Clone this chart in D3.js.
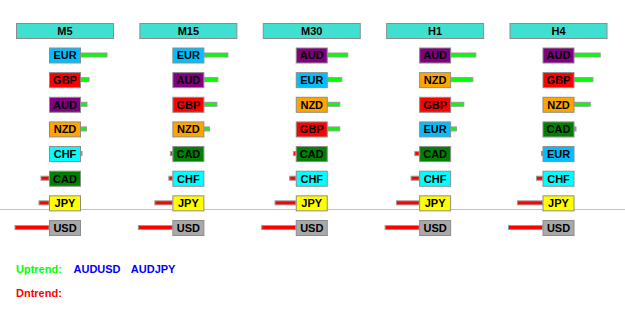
<!DOCTYPE html>
<html>
<head>
<meta charset="utf-8">
<script src="https://cdn.jsdelivr.net/npm/d3@7"></script>
<style>
  body { margin: 0; background: #fff; }
  text { font-family: "Liberation Sans", Arial, sans-serif; font-weight: bold; }
</style>
</head>
<body>
<div id="chart"></div>
<script>
// timeframes shown as columns
const timeframes = ['M5', 'M15', 'M30', 'H1', 'H4'];

// currency order (strongest first) and strength per timeframe
const m5Currencies  = ['EUR', 'GBP', 'AUD', 'NZD', 'CHF', 'CAD', 'JPY', 'USD'];
const m5Values      = [26, 8, 6, 5.5, 1, -8, -10, -34];
const m15Currencies = ['EUR', 'AUD', 'GBP', 'NZD', 'CAD', 'CHF', 'JPY', 'USD'];
const m15Values     = [23.5, 13.5, 12.5, 5, -2, -3.5, -17.5, -34];
const m30Currencies = ['AUD', 'EUR', 'NZD', 'GBP', 'CAD', 'CHF', 'JPY', 'USD'];
const m30Values     = [20, 14, 12, 12, -2.3, -6, -20.7, -34];
const h1Currencies  = ['AUD', 'NZD', 'GBP', 'EUR', 'CAD', 'CHF', 'JPY', 'USD'];
const h1Values      = [24.7, 21.7, 12.7, 5.3, -4.3, -8, -22.7, -34];
const h4Currencies  = ['AUD', 'GBP', 'NZD', 'CAD', 'EUR', 'CHF', 'JPY', 'USD'];
const h4Values      = [25.7, 18.4, 15.7, 1.5, -1, -6, -25, -34];

const uptrendPairs = ['AUDUSD', 'AUDJPY'];
const dntrendPairs = [];

const currencyColors = {
  EUR: '#00bfff', GBP: '#ff0000', AUD: '#800080', NZD: '#ffa500',
  CHF: '#00ffff', CAD: '#008000', JPY: '#ffff00', USD: '#a9a9a9'
};

const columns = [
  {currencies: m5Currencies, values: m5Values},
  {currencies: m15Currencies, values: m15Values},
  {currencies: m30Currencies, values: m30Values},
  {currencies: h1Currencies, values: h1Values},
  {currencies: h4Currencies, values: h4Values}
];

const width = 625, height = 322;
const headerW = 98, headerH = 16;
const boxW = 32, boxH = 16;

const svg = d3.select('#chart').append('svg')
    .attr('width', width)
    .attr('height', height);

// column and row positions
const xCol = d3.scaleLinear().domain([0, 4]).range([16, 509.5]);
const yRow = d3.scaleLinear().domain([0, 7]).range([47.5, 220]);
// strength -> bar length in px
const barLen = d3.scaleLinear().domain([0, 34]).range([0, 34]);

// separator line above the weakest currency
svg.append('line')
    .attr('x1', 0).attr('x2', width)
    .attr('y1', 209.5).attr('y2', 209.5)
    .attr('stroke', '#c0c0c0')
    .attr('stroke-width', 1);

timeframes.forEach((tf, ci) => {
  const x0 = xCol(ci);
  const g = svg.append('g').attr('transform', `translate(${x0},0)`);

  // header
  g.append('rect')
      .attr('x', 0.5).attr('y', 23.5)
      .attr('width', headerW - 1).attr('height', headerH - 1)
      .attr('fill', '#40e0d0')
      .attr('stroke', '#8c8c8c');
  g.append('text')
      .attr('x', headerW / 2).attr('y', 31.5)
      .attr('dy', '0.36em')
      .attr('text-anchor', 'middle')
      .attr('font-size', 11)
      .attr('fill', '#000')
      .text(tf);

  const boxX = (headerW - boxW) / 2;
  const col = columns[ci];
  const rows = col.currencies.map((c, i) => ({cur: c, val: col.values[i], i: i}));

  // strength bars
  g.selectAll('rect.bar').data(rows).enter().append('rect')
      .attr('class', 'bar')
      .attr('x', d => d.val >= 0 ? boxX + boxW : boxX - barLen(-d.val))
      .attr('y', d => yRow(d.i) + boxH / 2 - 2.5)
      .attr('width', d => barLen(Math.abs(d.val)))
      .attr('height', 4)
      .attr('fill', d => d.val >= 0 ? '#00ff00' : '#ff0000')
      .attr('stroke', '#999')
      .attr('stroke-width', 1);

  // currency boxes
  g.selectAll('rect.cur').data(rows).enter().append('rect')
      .attr('class', 'cur')
      .attr('x', boxX + 0.5)
      .attr('y', d => yRow(d.i) + 0.5)
      .attr('width', boxW - 1)
      .attr('height', boxH - 1)
      .attr('fill', d => currencyColors[d.cur])
      .attr('stroke', '#8c8c8c');

  g.selectAll('text.cur').data(rows).enter().append('text')
      .attr('class', 'cur')
      .attr('x', boxX + boxW / 2)
      .attr('y', d => yRow(d.i) + boxH / 2)
      .attr('dy', '0.36em')
      .attr('text-anchor', 'middle')
      .attr('font-size', 11)
      .attr('fill', '#000')
      .text(d => d.cur);
});

// trend summary
svg.append('text')
    .attr('x', 16).attr('y', 273)
    .attr('font-size', 11)
    .attr('fill', '#00ff00')
    .text('Uptrend:');
svg.selectAll('text.up').data(uptrendPairs).enter().append('text')
    .attr('class', 'up')
    .attr('x', (d, i) => 73.5 + i * 57.3)
    .attr('y', 273)
    .attr('font-size', 11)
    .attr('fill', '#0000ff')
    .text(d => d);

svg.append('text')
    .attr('x', 16).attr('y', 297)
    .attr('font-size', 11)
    .attr('fill', '#ff0000')
    .text('Dntrend:');
svg.selectAll('text.dn').data(dntrendPairs).enter().append('text')
    .attr('class', 'dn')
    .attr('x', (d, i) => 73.5 + i * 57.3)
    .attr('y', 297)
    .attr('font-size', 11)
    .attr('fill', '#0000ff')
    .text(d => d);
</script>
</body>
</html>
